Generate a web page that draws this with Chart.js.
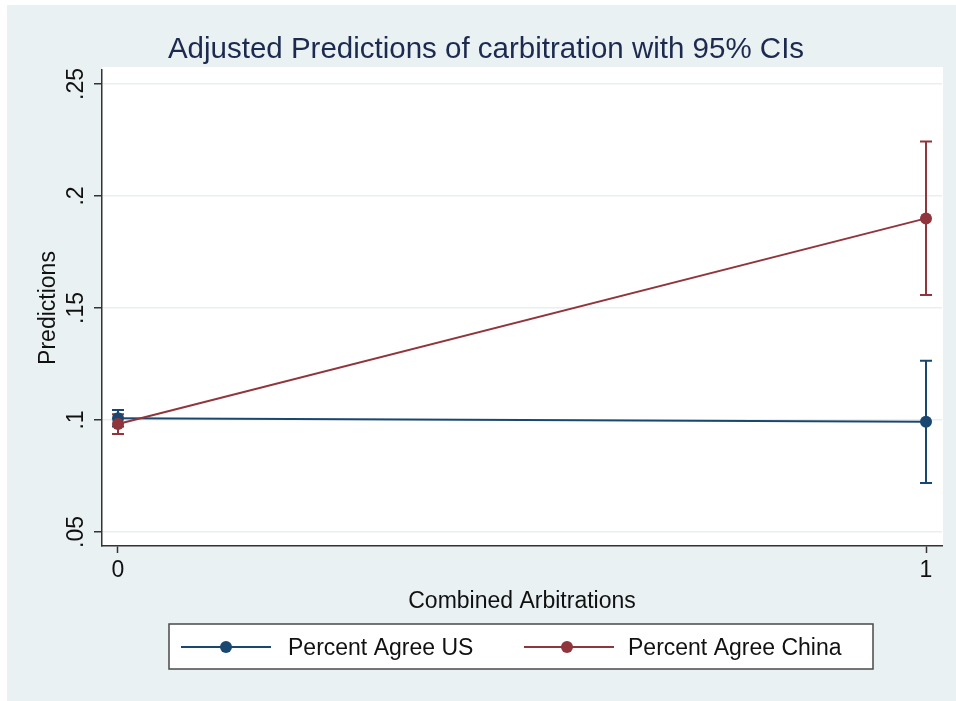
<!DOCTYPE html>
<html>
<head>
<meta charset="utf-8">
<title>Adjusted Predictions of carbitration with 95% CIs</title>
<script src="https://cdn.jsdelivr.net/npm/chart.js@4.4.1/dist/chart.umd.min.js"></script>
<style>
  html, body { margin: 0; padding: 0; background: #ffffff; }
  #wrap { width: 956px; height: 701px; }
</style>
</head>
<body>
<div id="wrap"><canvas id="c" width="956" height="701"></canvas></div>
<script>
// Combined Arbitrations (0 / 1)
const arbitration = [0, 1];

// Predicted share agreeing, with 95% confidence limits
const usPred  = [0.1008, 0.0992];
const usLo    = [0.0971, 0.0719];
const usHi    = [0.1045, 0.1265];
const cnPred  = [0.0982, 0.1900];
const cnLo    = [0.0938, 0.1558];
const cnHi    = [0.1026, 0.2243];

const yTickValues = [0.05, 0.10, 0.15, 0.20, 0.25];
const yTickLabels = ['.05', '.1', '.15', '.2', '.25'];
const xTickValues = [0, 1];
const xTickLabels = ['0', '1'];

const seriesNames = ['Percent Agree US', 'Percent Agree China'];
const titleText = 'Adjusted Predictions of carbitration with 95% CIs';
const xTitle = 'Combined Arbitrations';
const yTitle = 'Predictions';

const NAVY = '#1a476f';
const MAROON = '#90353b';
const FONT = '"Liberation Sans", Arial, Helvetica, sans-serif';

function pts(xs, ys) { return xs.map((x, i) => ({ x: x, y: ys[i] })); }

const series = [
  { name: seriesNames[0], pred: usPred, lo: usLo, hi: usHi, color: NAVY },
  { name: seriesNames[1], pred: cnPred, lo: cnLo, hi: cnHi, color: MAROON }
];

// Page backdrop and white plot region
const backdrop = {
  id: 'backdrop',
  beforeDraw(chart) {
    const ctx = chart.ctx, a = chart.chartArea;
    ctx.save();
    ctx.fillStyle = '#ffffff';
    ctx.fillRect(0, 0, chart.width, chart.height);
    ctx.fillStyle = '#eaf1f3';
    ctx.fillRect(7, 5, chart.width - 7, chart.height - 5);
    ctx.fillStyle = '#ffffff';
    ctx.fillRect(a.left, a.top - 3, a.right - a.left + 1, a.bottom - a.top + 3);
    ctx.restore();
  }
};

// Confidence-interval caps drawn under the lines
const ciBars = {
  id: 'ciBars',
  beforeDatasetsDraw(chart) {
    const ctx = chart.ctx, xs = chart.scales.x, ys = chart.scales.y;
    ctx.save();
    series.forEach(s => {
      ctx.strokeStyle = s.color;
      ctx.lineWidth = 2;
      arbitration.forEach((xv, i) => {
        const px = xs.getPixelForValue(xv);
        const pLo = ys.getPixelForValue(s.lo[i]);
        const pHi = ys.getPixelForValue(s.hi[i]);
        ctx.beginPath();
        ctx.moveTo(px, pLo); ctx.lineTo(px, pHi);
        ctx.moveTo(px - 6, pLo); ctx.lineTo(px + 6, pLo);
        ctx.moveTo(px - 6, pHi); ctx.lineTo(px + 6, pHi);
        ctx.stroke();
      });
    });
    ctx.restore();
  }
};

// Title, rotated y labels, axis titles and the boxed legend
const decorations = {
  id: 'decorations',
  afterDraw(chart) {
    const ctx = chart.ctx, a = chart.chartArea, ys = chart.scales.y;
    ctx.save();

    ctx.fillStyle = '#1c2a4f';
    ctx.font = '29.5px ' + FONT;
    ctx.textAlign = 'center';
    ctx.textBaseline = 'alphabetic';
    ctx.fillText(titleText, 486, 58);

    ctx.fillStyle = '#111111';
    ctx.font = '23px ' + FONT;
    yTickValues.forEach((v, i) => {
      const py = ys.getPixelForValue(v);
      ctx.save();
      ctx.translate(83, py);
      ctx.rotate(-Math.PI / 2);
      ctx.textAlign = 'center';
      ctx.textBaseline = 'alphabetic';
      ctx.fillText(yTickLabels[i], 0, 0);
      ctx.restore();
    });

    ctx.save();
    ctx.translate(55, (a.top + a.bottom) / 2);
    ctx.rotate(-Math.PI / 2);
    ctx.textAlign = 'center';
    ctx.textBaseline = 'alphabetic';
    ctx.fillText(yTitle, 0, 0);
    ctx.restore();

    ctx.textAlign = 'center';
    ctx.textBaseline = 'alphabetic';
    ctx.fillText(xTitle, (a.left + a.right) / 2, 608);

    // legend box
    ctx.fillStyle = '#ffffff';
    ctx.fillRect(169, 624, 704, 45);
    ctx.strokeStyle = '#4a4a4a';
    ctx.lineWidth = 1.5;
    ctx.strokeRect(169, 624, 704, 45);

    const items = [
      { x0: 181, x1: 271, mx: 226, tx: 288 },
      { x0: 524, x1: 614, mx: 567, tx: 628 }
    ];
    items.forEach((it, i) => {
      const s = series[i];
      ctx.strokeStyle = s.color;
      ctx.lineWidth = 2;
      ctx.beginPath();
      ctx.moveTo(it.x0, 647); ctx.lineTo(it.x1, 647);
      ctx.stroke();
      ctx.fillStyle = s.color;
      ctx.beginPath();
      ctx.arc(it.mx, 647, 6, 0, Math.PI * 2);
      ctx.fill();
      ctx.fillStyle = '#111111';
      ctx.textAlign = 'left';
      ctx.textBaseline = 'alphabetic';
      ctx.font = '23px ' + FONT;
      ctx.fillText(s.name, it.tx, 655);
    });

    ctx.restore();
  }
};

new Chart(document.getElementById('c'), {
  type: 'line',
  data: {
    datasets: series.map((s, i) => ({
      label: s.name,
      data: pts(arbitration, s.pred),
      borderColor: s.color,
      backgroundColor: s.color,
      borderWidth: 2,
      pointRadius: 6,
      pointHoverRadius: 6,
      pointBorderWidth: 0,
      pointBackgroundColor: s.color,
      tension: 0,
      order: i === 0 ? 1 : 0
    }))
  },
  options: {
    responsive: false,
    animation: false,
    events: [],
    layout: { padding: { left: 0, top: 70, right: 14, bottom: 0 } },
    plugins: {
      legend: { display: false },
      title: { display: false },
      tooltip: { enabled: false }
    },
    scales: {
      x: {
        type: 'linear',
        min: -0.0198,
        max: 1.0198,
        afterBuildTicks(scale) { scale.ticks = xTickValues.map(v => ({ value: v })); },
        afterFit(scale) { scale.height = 155; },
        ticks: {
          color: '#111111',
          font: { family: FONT, size: 23 },
          padding: 4,
          maxRotation: 0,
          callback(value) {
            const k = xTickValues.indexOf(value);
            return k >= 0 ? xTickLabels[k] : '';
          }
        },
        grid: {
          drawOnChartArea: false,
          drawTicks: true,
          tickLength: 7,
          tickColor: '#333333',
          tickWidth: 1.5
        },
        border: { color: '#333333', width: 1.5 }
      },
      y: {
        type: 'linear',
        min: 0.04375,
        max: 0.25625,
        afterBuildTicks(scale) { scale.ticks = yTickValues.map(v => ({ value: v })); },
        afterFit(scale) { scale.width = 102; },
        ticks: { display: false },
        grid: {
          color: '#e9eff1',
          lineWidth: 1.5,
          drawTicks: true,
          tickLength: 8,
          tickColor: '#333333',
          tickWidth: 1.5
        },
        border: { color: '#333333', width: 1.5 }
      }
    }
  },
  plugins: [backdrop, ciBars, decorations]
});
</script>
</body>
</html>
